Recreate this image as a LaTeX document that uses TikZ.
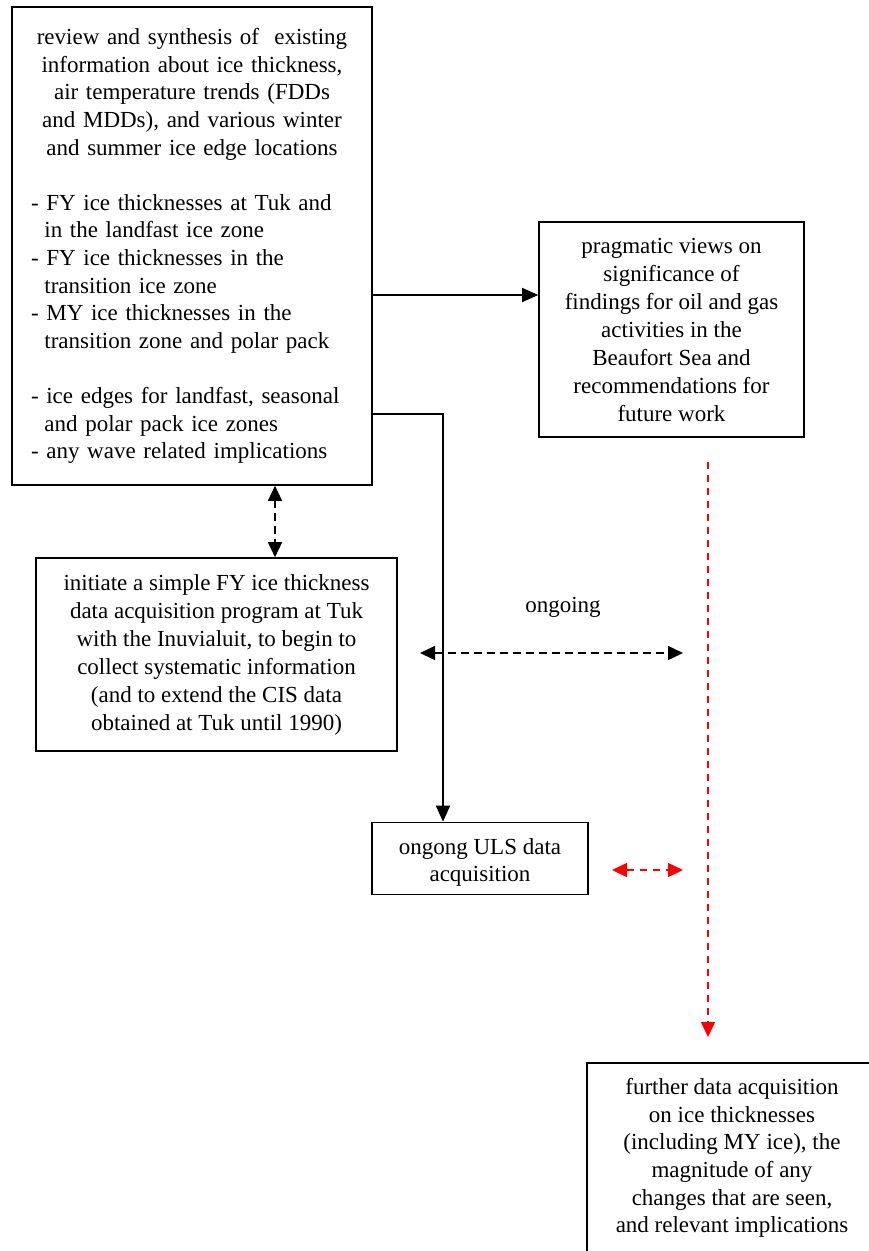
\documentclass[tikz,border=0pt]{standalone}
\usepackage{fontspec}
\setmainfont{Liberation Serif}
\usetikzlibrary{arrows.meta,calc}
\definecolor{dred}{RGB}{255,0,0}
\begin{document}
\begin{tikzpicture}[x=1pt,y=-1pt,
  txt/.style={font=\fontsize{23}{27.6}\selectfont},
  box/.style={draw=black,line width=1.6pt,inner sep=0pt,txt,align=center},
  arr/.style={line width=1.5pt,-{Triangle[length=16pt,width=14pt]}},
  darr/.style={line width=1.5pt,dash pattern=on 8pt off 5pt,{Triangle[length=15pt,width=14pt]}-{Triangle[length=15pt,width=14pt]}},
  rarr/.style={line width=1.5pt,dred,dash pattern=on 7pt off 6pt,-{Triangle[length=15pt,width=14pt]}},
  rdarr/.style={line width=1.5pt,dred,dash pattern=on 7pt off 6pt,{Triangle[length=15pt,width=14pt]}-{Triangle[length=15pt,width=14pt]}}
]
\useasboundingbox (0,0) rectangle (869,1251);
\node[box,minimum width=360pt,minimum height=478pt,text width=322pt,align=left] (A) at (192,246) {%
{\centering review and synthesis of\ \ existing\\
information about ice thickness,\\
air temperature trends (FDDs\\
and MDDs), and various winter\\
and summer ice edge locations\par}
\vspace{\baselineskip}
{\raggedright
\hangindent=13.4pt\hangafter=1 - FY ice thicknesses at Tuk and\newline in the landfast ice zone\par
\hangindent=13.4pt\hangafter=1 - FY ice thicknesses in the\newline transition ice zone\par
\hangindent=13.4pt\hangafter=1 - MY ice thicknesses in the\newline transition zone and polar pack\par
\vspace{\baselineskip}
\hangindent=13.4pt\hangafter=1 - ice edges for landfast, seasonal\newline and polar pack ice zones\par
\hangindent=13.4pt\hangafter=1 - any wave related implications\par}
\vspace{16pt}};
\node[box,minimum width=265pt,minimum height=215pt,font=\fontsize{23}{28}\selectfont] (B) at (671.5,329.5) {pragmatic views on\\ significance of\\ findings for oil and gas\\ activities in the\\ Beaufort Sea and\\ recommendations for\\ future work};
\node[box,minimum width=361pt,minimum height=193pt,font=\fontsize{23}{28}\selectfont] (C) at (216.5,654.5) {initiate a simple FY ice thickness\\ data acquisition program at Tuk\\ with the Inuvialuit, to begin to\\ collect systematic information\\ (and to extend the CIS data\\ obtained at Tuk until 1990)};
\node[box,minimum width=216pt,minimum height=72pt,
  label={[txt,align=center,inner sep=0pt,yshift=-4pt]center:ongong ULS data\\ acquisition}] (D) at (480,858.5) {};
\node[box,minimum width=290pt,minimum height=190pt] (E) at (732,1158) {further data acquisition\\ on ice thicknesses\\ (including MY ice), the\\ magnitude of any\\ changes that are seen,\\ and relevant implications};
\node[txt,inner sep=0pt] (ong) at (563,607) {ongoing};
\coordinate (ongL) at (420,653);
\coordinate (ongR) at (683,653);
\coordinate (rv1) at (708,462);
\coordinate (rv2) at (708,1037);
\coordinate (rh1) at (612,870);
\coordinate (rh2) at (683,870);
\draw[arr] (A.east |- 0,295) -- (B.west |- 0,295);
\draw[arr] (A.east |- 0,414) -| (D.north -| 443,0);
\draw[darr] (A.south -| 275,0) -- (C.north -| 275,0);
\draw[darr] (ongL) -- (ongR);
\draw[rarr] (rv1) -- (rv2);
\draw[rdarr] (rh1) -- (rh2);
\end{tikzpicture}
\end{document}
